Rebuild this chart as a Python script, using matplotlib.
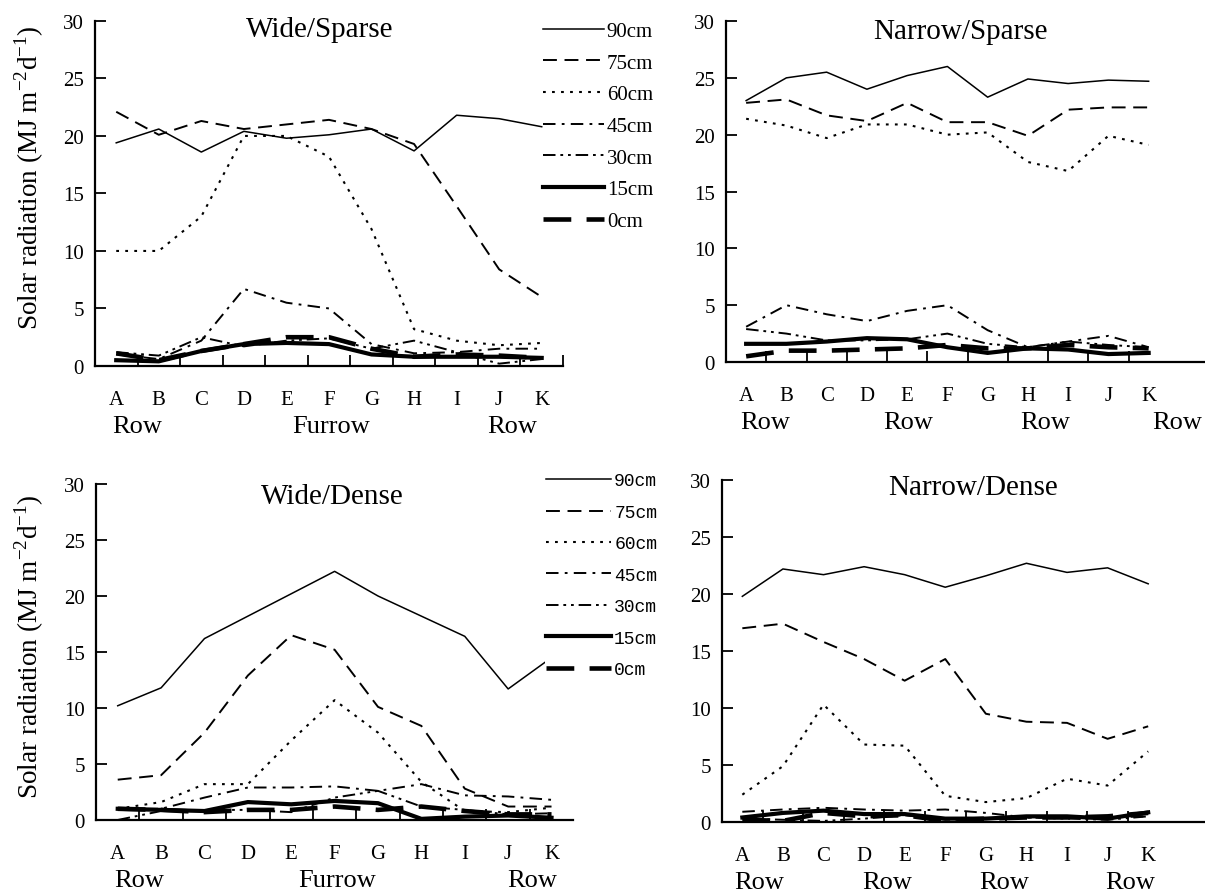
import matplotlib
matplotlib.use("Agg")
import matplotlib.pyplot as plt
from matplotlib.lines import Line2D

plt.rcParams['font.family'] = ['Liberation Serif', 'DejaVu Serif']
plt.rcParams['lines.scale_dashes'] = False

positions = ['A', 'B', 'C', 'D', 'E', 'F', 'G', 'H', 'I', 'J', 'K']
heights = ['90cm', '75cm', '60cm', '45cm', '30cm', '15cm', '0cm']

# Wide/Sparse
ws_90 = [19.4, 20.6, 18.6, 20.4, 19.8, 20.1, 20.6, 18.7, 21.8, 21.5, 20.8]
ws_75 = [22.1, 20.1, 21.3, 20.6, 21.0, 21.4, 20.6, 19.3, 13.9, 8.4, 6.0]
ws_60 = [10.0, 10.0, 13.0, 20.0, 20.0, 18.2, 11.9, 3.2, 2.2, 1.8, 2.0]
ws_45 = [1.0, 0.6, 2.2, 6.7, 5.5, 5.0, 1.9, 1.1, 1.2, 1.5, 1.5]
ws_30 = [1.2, 0.9, 2.5, 1.7, 2.2, 2.4, 1.5, 2.2, 1.2, 0.2, 0.6]
ws_15 = [0.5, 0.4, 1.3, 1.9, 2.0, 1.9, 1.0, 0.8, 0.8, 0.8, 0.7]
ws_0 = [1.1, 0.5, 1.3, 1.9, 2.5, 2.5, 1.5, 0.8, 1.0, 0.9, 0.7]

# Narrow/Sparse
ns_90 = [23.0, 25.0, 25.5, 24.0, 25.2, 26.0, 23.3, 24.9, 24.5, 24.8, 24.7]
ns_75 = [22.8, 23.1, 21.7, 21.2, 22.8, 21.1, 21.1, 19.9, 22.2, 22.4, 22.4]
ns_60 = [21.4, 20.8, 19.7, 20.9, 20.9, 20.0, 20.2, 17.6, 16.8, 19.9, 19.1]
ns_45 = [3.1, 5.0, 4.2, 3.6, 4.5, 5.0, 2.8, 1.3, 1.8, 2.3, 1.3]
ns_30 = [2.9, 2.5, 1.9, 1.9, 2.0, 2.5, 1.6, 1.3, 1.8, 1.5, 1.3]
ns_15 = [1.6, 1.6, 1.8, 2.1, 2.0, 1.3, 0.8, 1.2, 1.1, 0.7, 0.8]
ns_0 = [0.5, 1.0, 1.0, 1.1, 1.2, 1.5, 1.2, 1.2, 1.5, 1.3, 1.2]

# Wide/Dense
wd_90 = [10.2, 11.8, 16.2, 18.2, 20.2, 22.2, 20.0, 18.2, 16.4, 11.7, 14.5]
wd_75 = [3.6, 4.0, 7.8, 12.9, 16.5, 15.2, 10.1, 8.4, 2.8, 1.2, 1.2]
wd_60 = [1.0, 1.6, 3.2, 3.2, 7.1, 10.7, 7.8, 3.4, 0.8, 0.7, 1.1]
wd_45 = [1.0, 1.0, 2.0, 2.9, 2.9, 3.0, 2.6, 3.2, 2.2, 2.1, 1.8]
wd_30 = [0.0, 0.8, 0.9, 0.9, 0.7, 2.0, 2.6, 1.2, 0.9, 0.5, 0.6]
wd_15 = [1.0, 0.9, 0.8, 1.6, 1.4, 1.7, 1.5, 0.1, 0.3, 0.4, 0.2]
wd_0 = [1.0, 0.9, 0.7, 0.9, 0.9, 1.2, 0.9, 1.2, 0.8, 0.5, 0.5]

# Narrow/Dense
nd_90 = [19.8, 22.2, 21.7, 22.4, 21.7, 20.6, 21.6, 22.7, 21.9, 22.3, 20.9]
nd_75 = [17.0, 17.4, 15.8, 14.3, 12.4, 14.3, 9.5, 8.8, 8.7, 7.3, 8.4]
nd_60 = [2.4, 4.9, 10.3, 6.8, 6.7, 2.3, 1.75, 2.1, 3.8, 3.2, 6.2]
nd_45 = [0.9, 1.1, 1.25, 1.1, 1.0, 1.1, 0.8, 0.4, 0.4, 0.4, 0.5]
nd_30 = [0.3, 0.2, 0.1, 0.3, 0.6, 0.2, 0.3, 0.4, 0.3, 0.2, 0.5]
nd_15 = [0.4, 0.8, 1.0, 0.7, 0.7, 0.3, 0.3, 0.5, 0.5, 0.3, 0.85]
nd_0 = [0.2, 0.1, 0.8, 0.5, 0.6, 0.1, 0.3, 0.4, 0.4, 0.5, 0.8]

# line style per height: (linewidth, dashes or None)
styles = [
    (1.1, None),
    (1.4, (10, 5.5)),
    (1.5, (2, 4.5)),
    (1.4, (9, 4.5, 2, 4.5)),
    (1.4, (9, 3.5, 2, 3.5, 2, 3.5)),
    (3.0, None),
    (3.3, (20, 11)),
]

# title, series, axes rect, zone names, zone x, xmax, tick at end, title pos
panels = [
    ('Wide/Sparse', [ws_90, ws_75, ws_60, ws_45, ws_30, ws_15, ws_0],
     [0.0788, 0.590, 0.3884, 0.3855], ['Row', 'Furrow', 'Row'], [0.5, 5.04, 9.3], 10.5, True,
     (0.481, 0.977)),
    ('Narrow/Sparse', [ns_90, ns_75, ns_60, ns_45, ns_30, ns_15, ns_0],
     [0.6025, 0.5944, 0.3975, 0.381], ['Row', 'Row', 'Row', 'Row'], [0.47, 4.03, 7.44, 10.7], 11.4, False,
     (0.49, 0.971)),
    ('Wide/Dense', [wd_90, wd_75, wd_60, wd_45, wd_30, wd_15, wd_0],
     [0.0797, 0.0827, 0.396, 0.3754], ['Row', 'Furrow', 'Row'], [0.5, 5.05, 9.56], 10.5, False,
     (0.495, 0.964)),
    ('Narrow/Dense', [nd_90, nd_75, nd_60, nd_45, nd_30, nd_15, nd_0],
     [0.5992, 0.0804, 0.4008, 0.3821], ['Row', 'Row', 'Row', 'Row'], [0.42, 3.56, 6.44, 9.56], 11.4, False,
     (0.52, 0.98)),
]

fig = plt.figure(figsize=(12.05, 8.95), dpi=100)
x = list(range(len(positions)))

for title, series, rect, zones, zone_x, xmax, end_tick, tpos in panels:
    ax = fig.add_axes(rect)
    for vals, (lw, dash) in zip(series, styles):
        if dash is None:
            ax.plot(x, vals, color='black', lw=lw, solid_joinstyle='round')
        else:
            ax.plot(x, vals, color='black', lw=lw, dashes=dash, dash_capstyle='butt')
    ax.set_xlim(-0.5, xmax)
    ax.set_ylim(0, 30)
    ax.set_yticks(range(0, 31, 5))
    bounds = [i + 0.5 for i in range(10)]
    if end_tick:
        bounds.append(10.5)
    ax.set_xticks(bounds)
    ax.set_xticklabels([])
    ax.set_xticks(x, minor=True)
    ax.set_xticklabels(positions, minor=True, fontsize=15)
    ax.tick_params(axis='x', which='major', direction='in', length=8, width=1.3)
    ax.tick_params(axis='x', which='minor', length=0, pad=17)
    ax.tick_params(axis='y', direction='in', length=8, width=1.3, labelsize=15, pad=8)
    for s in ['top', 'right']:
        ax.spines[s].set_visible(False)
    for s in ['left', 'bottom']:
        ax.spines[s].set_linewidth(1.6)
    ax.text(tpos[0], tpos[1], title, transform=ax.transAxes, ha='center', va='center', fontsize=21)
    for name, zx in zip(zones, zone_x):
        ax.annotate(name, xy=(zx, 0), xycoords=('data', 'axes fraction'),
                    xytext=(0, -43), textcoords='offset points',
                    ha='center', va='center', fontsize=19)

ylab = 'Solar radiation (MJ m$^{\\mathregular{-2}}$d$^{\\mathregular{-1}}$)'
fig.text(0.024, 0.801, ylab, rotation=90, ha='center', va='center', fontsize=19.5)
fig.text(0.024, 0.277, ylab, rotation=90, ha='center', va='center', fontsize=19.5)

handles = []
for lw, dash in styles:
    if dash is None:
        handles.append(Line2D([], [], color='black', lw=lw))
    else:
        handles.append(Line2D([], [], color='black', lw=lw, dashes=dash, dash_capstyle='butt'))

leg_top = fig.legend(handles, heights, loc='upper left', bbox_to_anchor=(0.4505, 0.975),
                     frameon=False, fontsize=15, handlelength=2.95, handletextpad=0.12,
                     labelspacing=0.58, borderpad=0, borderaxespad=0)
leg_bot = fig.legend(handles, heights, loc='upper left', bbox_to_anchor=(0.452, 0.473),
                     frameon=True, facecolor='white', edgecolor='none', framealpha=1,
                     prop={'family': 'Liberation Mono', 'size': 13}, handlelength=3.6,
                     handletextpad=0.15, labelspacing=0.8, borderpad=0.1, borderaxespad=0)

fig.savefig('out.png', dpi=100)
